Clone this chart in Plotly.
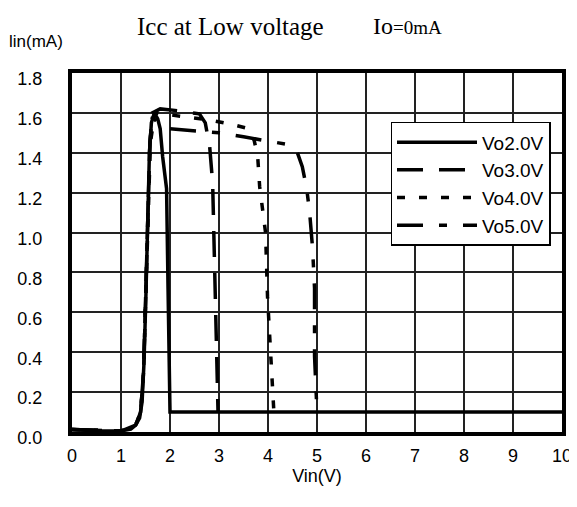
import plotly.graph_objects as go

# Vin (V) / Iin (mA)
vo2_x = [0.0, 0.6, 1.0, 1.2, 1.3, 1.38, 1.43, 1.47, 1.51, 1.55, 1.58, 1.62, 1.68, 1.75, 1.8, 1.85, 1.93, 1.96, 1.99, 2.0, 10.0]
vo2_y = [0.012, 0.005, 0.005, 0.015, 0.035, 0.07, 0.15, 0.35, 0.7, 1.1, 1.4, 1.55, 1.6, 1.57, 1.52, 1.38, 1.22, 0.72, 0.2, 0.1, 0.1]

vo3_x = [0.0, 1.0, 1.3, 1.4, 1.46, 1.51, 1.55, 1.59, 1.64, 1.8, 2.2, 2.6, 2.72, 2.81, 2.87, 2.91, 2.93, 2.97, 2.98]
vo3_y = [0.012, 0.005, 0.035, 0.1, 0.3, 0.7, 1.15, 1.45, 1.6, 1.62, 1.61, 1.595, 1.55, 1.43, 1.25, 0.88, 0.55, 0.22, 0.1]

vo4_x = [0.0, 1.0, 1.3, 1.4, 1.46, 1.51, 1.55, 1.6, 1.69, 2.2, 2.8, 3.3, 3.62, 3.72, 3.79, 3.83, 3.89, 3.95, 3.99, 4.03, 4.07, 4.09, 4.11, 4.12]
vo4_y = [0.012, 0.005, 0.035, 0.1, 0.3, 0.7, 1.15, 1.45, 1.6, 1.585, 1.565, 1.54, 1.52, 1.46, 1.38, 1.23, 1.1, 1.0, 0.68, 0.52, 0.32, 0.23, 0.14, 0.1]

vo5_x = [0.0, 1.0, 1.3, 1.4, 1.46, 1.51, 1.55, 1.59, 1.64, 1.75, 2.0, 2.5, 3.0, 3.5, 3.97, 4.44, 4.6, 4.7, 4.79, 4.85, 4.91, 4.95, 4.95, 4.99, 5.0]
vo5_y = [0.012, 0.005, 0.035, 0.1, 0.3, 0.7, 1.15, 1.45, 1.58, 1.55, 1.52, 1.51, 1.5, 1.48, 1.46, 1.44, 1.4, 1.33, 1.22, 1.1, 0.92, 0.72, 0.38, 0.13, 0.1]

series = [
    ("Vo2.0V", vo2_x, vo2_y, "solid"),
    ("Vo3.0V", vo3_x, vo3_y, "26px,16px"),
    ("Vo4.0V", vo4_x, vo4_y, "8px,14px"),
    ("Vo5.0V", vo5_x, vo5_y, "26px,16px,8px,16px"),
]

fig = go.Figure()
for i, (name, xs, ys, dash) in enumerate(series):
    fig.add_trace(go.Scatter(x=xs, y=ys, mode="lines", name=name, legendgroup=str(i),
                             line=dict(color="black", width=3.5, dash=dash)))

axis_common = dict(showline=True, linewidth=4, linecolor="black", mirror=True,
                   showgrid=True, gridcolor="#222", gridwidth=1.5, zeroline=False,
                   automargin=False, ticks="",
                   tickfont=dict(family="Liberation Sans", size=18, color="black"))

fig.update_xaxes(range=[0, 10], dtick=1, tickformat="d",
                 title=dict(text="Vin(V)", font=dict(family="Liberation Sans", size=18, color="black"), standoff=2),
                 ticklabelstandoff=4, **axis_common)
fig.update_yaxes(range=[0, 1.8], dtick=0.2, tickformat=".1f", ticklabelstandoff=22,
                 ticklabelshift=6, **axis_common)

# page body has an 8px margin, so the figure is laid out 8px smaller than the window
fig.update_layout(
    width=569, height=499,
    margin=dict(l=64, r=15, t=65, b=75),
    paper_bgcolor="white", plot_bgcolor="white",
    font=dict(family="Liberation Sans", color="black"),
    legend=dict(x=0.65, y=0.864, xanchor="left", yanchor="top",
                bgcolor="white", bordercolor="black", borderwidth=1.5,
                font=dict(family="Liberation Sans", size=19, color="black"),
                traceorder="grouped", tracegroupgap=0, itemwidth=80),
    annotations=[
        dict(text="Icc at Low voltage", xref="paper", yref="paper", x=0.128, y=1.13,
             xanchor="left", yanchor="middle", showarrow=False,
             font=dict(family="Liberation Serif", size=25, color="black")),
        dict(text="Io<span style='font-size:19px'>=0mA</span>", xref="paper", yref="paper",
             x=0.611, y=1.13, xanchor="left", yanchor="middle", showarrow=False,
             font=dict(family="Liberation Serif", size=24, color="black")),
        dict(text="lin(mA)", xref="paper", yref="paper", x=-0.132, y=1.088,
             xanchor="left", yanchor="middle", showarrow=False,
             font=dict(family="Liberation Sans", size=17, color="black")),
    ],
)

fig.write_html("out.html")
